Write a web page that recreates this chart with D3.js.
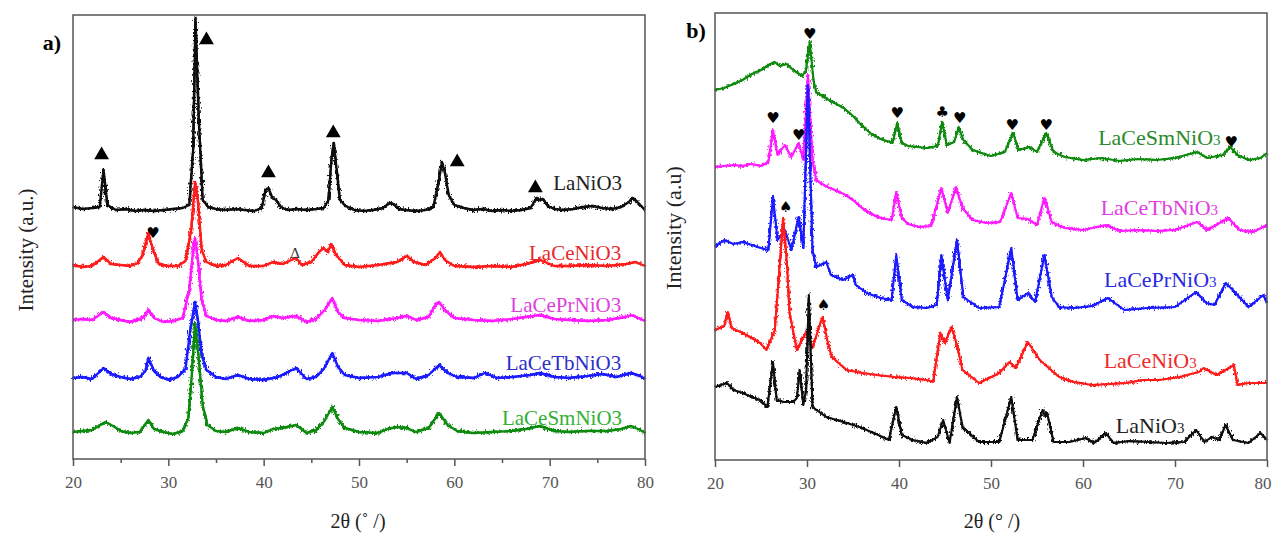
<!DOCTYPE html>
<html>
<head>
<meta charset="utf-8">
<script src="https://cdn.jsdelivr.net/npm/d3@7"></script>
<style>
  body { margin: 0; background: #fff; }
</style>
</head>
<body>
<svg id="fig" width="1272" height="533"></svg>
<script>
// x ticks (2-theta, degrees)
var majorTicks = [20, 30, 40, 50, 60, 70, 80];
var minorTicks = [25, 35, 45, 55, 65, 75];

// ---- panel a: [2theta, intensity a.u.] (curves already stacked) ----
var aLaNiO3 = [[20,252],[21,250],[22,251],[22.8,252],[23.2,289],[23.6,254],[24.5,249],[25.5,250],[26.5,248],[27.5,249],[28.5,248],[29.5,249],[30.5,250],[31.5,251],[32.2,254],[32.6,309],[32.85,441],[33.2,339],[33.6,259],[34.2,252],[35,250],[36,249],[37,250],[38,249],[39,248],[39.8,251],[40.2,269],[40.5,271],[40.9,261],[41.3,259],[41.8,252],[42.5,249],[43.5,250],[44.5,249],[45.5,250],[46.3,251],[46.8,259],[47.1,299],[47.35,316],[47.6,294],[48,259],[48.6,253],[49.5,249],[50.5,248],[51.5,249],[52.5,251],[53.2,256],[53.6,255],[54.2,250],[55,249],[56,248],[57,249],[57.8,252],[58.3,274],[58.7,297],[59,287],[59.4,264],[60,254],[61,251],[62,249],[63,250],[64,248],[65,249],[66,248],[67,249],[68,251],[68.6,261],[68.9,259],[69.3,260],[69.8,253],[70.5,250],[71.5,249],[72.5,250],[73.5,252],[74.5,253],[75.5,251],[76.5,250],[77.5,252],[78.3,257],[78.7,261],[79.2,257],[79.6,253],[80,249]];
var aLaCeNiO3 = [[20,194],[21,192],[22,193],[23.2,202],[24,195],[25,194],[26,193],[26.8,196],[27.3,204],[27.9,226],[28.4,209],[29,195],[30,193],[31,193],[31.8,198],[32.4,229],[32.8,277],[33.1,259],[33.5,209],[34,197],[35,193],[36,194],[37.3,201],[38.5,193],[40,193],[41,197],[42,195],[43.4,201],[44,194],[45,197],[45.8,207],[46.3,211],[46.7,207],[47.1,215],[47.6,204],[48.5,194],[50,192],[52,194],[54,197],[55,203],[55.8,197],[57,194],[58,201],[58.5,207],[59,199],[60,193],[62,192],[64,193],[66,192],[67.5,195],[69,199],[70.5,193],[72,193],[74,194],[76,193],[78,195],[79,197],[80,193]];
var aLaCePrNiO3 = [[20,139],[21,140],[22,139],[23.2,147],[24,141],[25,139],[26,137],[27.3,141],[27.9,149],[28.5,141],[29.5,137],[30.5,138],[31.5,141],[32.2,169],[32.6,209],[32.8,221],[33.1,199],[33.5,159],[34,143],[35,139],[36,138],[37.3,142],[38.5,138],[40,139],[41,143],[42,141],[43.4,143],[44.5,137],[45.5,140],[46.4,149],[47.2,161],[47.8,147],[48.5,141],[50,139],[52,138],[54,141],[55,143],[56,139],[57.3,142],[58,154],[58.4,157],[59,149],[60,141],[62,139],[64,138],[66,140],[67.5,142],[69,144],[70.5,140],[72,139],[74,138],[76,139],[78,142],[78.5,144],[79.3,141],[80,138]];
var aLaCeTbNiO3 = [[20,81],[21,82],[22,80],[23.2,91],[24,85],[25,82],[26,80],[27,82],[27.6,88],[27.9,101],[28.5,88],[29.2,82],[30,79],[31,82],[31.8,90],[32.3,129],[32.8,157],[33.1,139],[33.5,104],[34,89],[35,82],[36,80],[37.3,84],[38.5,80],[40,79],[41.5,82],[43.4,91],[44.5,80],[45.5,82],[46.3,90],[47.2,106],[47.8,92],[48.5,84],[50,81],[52,82],[53.5,86],[55,86],[56,80],[57.3,84],[58.4,94],[59.3,86],[60.3,82],[62,81],[63.2,86],[64.5,81],[66,82],[68,84],[69,86],[70.5,82],[72,81],[74,83],[75.6,85],[77,82],[78.5,86],[79.5,83],[80,80]];
var aLaCeSmNiO3 = [[20,27],[21,28],[22,29],[23.4,37],[24.2,33],[25,28],[26,26],[27,27],[27.9,39],[28.5,30],[29.5,27],[30.5,25],[31.5,28],[32.1,41],[32.5,89],[32.8,136],[33.2,99],[33.6,54],[34.1,34],[35,28],[36,27],[37.3,31],[38.5,27],[40,26],[41,30],[42,31],[43.4,34],[44.5,26],[45.5,29],[46.3,37],[47.2,52],[47.8,40],[48.5,31],[50,27],[52,26],[53,30],[54,32],[55,31],[56,27],[57.3,31],[58.4,46],[59.3,34],[60.3,28],[62,26],[64,27],[66,28],[67.5,30],[69,33],[70.5,28],[72,27],[74,28],[76,28],[77.5,30],[78.5,33],[79.5,29],[80,26]];

var aNames = ["LaNiO3", "LaCeNiO3", "LaCePrNiO3", "LaCeTbNiO3", "LaCeSmNiO3"];
var aSeries = [aLaNiO3, aLaCeNiO3, aLaCePrNiO3, aLaCeTbNiO3, aLaCeSmNiO3];
var aLabelAt = [[77.6, 269], [77.5, 199], [77.5, 147], [77.5, 89], [77.6, 34]];
var aTriangles = [[23.0, 304], [34.0, 419], [40.5, 286], [47.3, 326], [60.3, 297], [68.5, 271]];
var aHearts = [[28.4, 226]];
var aOpenTriangles = [[43.3, 206]];

// ---- panel b ----
var bLaCeSmNiO3 = [[20,370],[21,372],[22,376],[23,380],[24,386],[25,390],[26,396],[26.5,398],[27,394],[27.8,396],[28.5,390],[29.5,384],[29.9,390],[30.3,418],[30.7,380],[31,368],[32,362],[33,357],[34,352],[35,344],[36,334],[37,326],[38,321],[39.3,317],[39.8,337],[40.3,317],[41,314],[42,313],[43,312],[44.2,314],[44.7,338],[45.2,315],[46,318],[46.5,333],[47,320],[48,310],[49,307],[50,304],[51.5,308],[52.4,327],[53,310],[54.2,313],[55,308],[56,327],[56.8,308],[58,303],[60,300],[62,302],[64,299],[66,301],[68,300],[70,302],[72.4,308],[73.5,302],[75.2,305],[76,313],[76.8,305],[78,300],[79.3,302],[80,307]];
var bLaCeTbNiO3 = [[20,293],[21,294],[22,295],[23,294],[24,296],[25,294],[25.8,298],[26.3,330],[26.8,305],[27.6,315],[28.3,303],[29.1,317],[29.6,300],[30.1,385],[30.6,300],[31,280],[32,274],[33,270],[34,266],[35,260],[36,252],[37,246],[38,242],[39.2,240],[39.7,268],[40.3,242],[41,236],[42.2,233],[43.5,234],[44.6,272],[45.3,247],[46.2,273],[46.9,252],[48,240],[49.5,237],[51,238],[52.2,267],[52.9,242],[54,241],[55,235],[55.8,262],[56.6,238],[58,232],[60,230],[62.5,235],[64,229],[66,230],[68,229],[70,230],[72.4,238],[73.5,230],[75.8,242],[77,230],[78.5,228],[80,235]];
var bLaCePrNiO3 = [[20,213],[21,220],[22,216],[23,218],[24,215],[25,212],[25.8,210],[26.3,263],[26.8,220],[27.6,230],[28.3,210],[29.1,243],[29.6,212],[30.1,375],[30.6,210],[31,193],[32.1,198],[32.6,185],[33.9,180],[35,185],[35.3,175],[36.5,167],[38,162],[39.2,160],[39.7,205],[40.3,160],[41.5,153],[43,152],[44.1,155],[44.6,205],[45.3,160],[46.3,220],[47,163],[48.7,152],[50.9,153],[52.2,212],[52.9,160],[54,167],[54.8,158],[55.8,205],[56.6,163],[57.4,153],[59,152],[61,154],[62.7,162],[64.5,150],[67,152],[70,153],[72.3,168],[73.4,157],[74.3,155],[75.5,177],[76.6,167],[78,153],[79.6,165],[80,157]];
var bLaCeNiO3 = [[20,130],[21,134],[21.4,148],[21.8,132],[23,127],[24,122],[24.9,117],[25.6,110],[26.5,130],[27,190],[27.4,242],[27.8,200],[28.1,147],[28.9,110],[29.9,128],[30.6,112],[31.2,130],[31.7,143],[32.2,120],[32.7,103],[34.3,90],[36,87],[37.6,85],[39.5,83],[41.2,82],[43,80],[43.7,78],[44.5,127],[45,117],[45.7,133],[46.3,115],[46.9,90],[48.7,77],[50.9,87],[52,98],[52.7,92],[54,118],[55.3,100],[57.4,83],[59,78],[61,75],[63,76],[64.7,77],[66.5,80],[68.3,80],[70.5,83],[72.6,88],[73.1,92],[74.5,85],[75.5,90],[76.4,95],[76.8,75],[78,77],[80,77]];
var bLaNiO3 = [[20,73],[21.3,77],[22,70],[23,67],[24,63],[24.9,60],[25.7,53],[26.3,98],[26.7,60],[27.5,58],[28.5,58],[28.9,62],[29.2,90],[29.6,55],[29.9,70],[30.2,165],[30.6,53],[31.5,47],[32.1,43],[34,38],[35.7,33],[37.5,26],[38.9,20],[39.7,53],[40.3,25],[41.5,20],[43,17],[44.2,23],[44.8,40],[45.5,17],[46.3,63],[46.9,33],[48.7,18],[50.9,18],[52.2,63],[52.9,20],[54.5,20],[55.6,50],[55.9,44],[56.1,47],[56.8,18],[58.5,18],[60.3,22],[61.2,17],[62.5,27],[63.3,17],[65,19],[67,18],[69,17],[71,18],[72.3,30],[73.2,18],[74,23],[74.8,20],[75.5,35],[76.3,20],[78,17],[79.3,27],[80,20]];

var bNames = ["LaCeSmNiO", "LaCeTbNiO", "LaCePrNiO", "LaCeNiO", "LaNiO"];
var bSeries = [bLaCeSmNiO3, bLaCeTbNiO3, bLaCePrNiO3, bLaCeNiO3, bLaNiO3];
var bLabelAt = [[68.3, 315], [68.3, 245], [68.4, 173], [67.3, 92], [67.3, 27]];
var bHearts = [[30.3, 426], [26.3, 342], [29.1, 325], [39.8, 347], [46.6, 342], [52.3, 335], [56.0, 335], [76.1, 318]];
var bClubs = [[44.7, 348]];
var bSpades = [[27.7, 253], [31.8, 155]];

var aLine = ["#111111", "#ff1a1a", "#ff1aff", "#1a1aff", "#118a11"];
var aText = ["#222222", "#e8282b", "#dd3fdd", "#2e2ec8", "#33b033"];
var bLine = ["#118a11", "#ff1aff", "#1a1aff", "#ff1a1a", "#111111"];
var bText = ["#2a8a2a", "#e040e0", "#2a2ae0", "#ee2a2a", "#222222"];

var serif = "'Liberation Serif', 'Times New Roman', Times, serif";
var svg = d3.select("#fig");
var axisColor = "#555";

// rough texture so the traces look like noisy XRD scans
var fz = svg.append("defs").append("filter").attr("id", "fuzz")
  .attr("x", "-5%").attr("y", "-10%").attr("width", "110%").attr("height", "120%");
fz.append("feTurbulence").attr("type", "fractalNoise").attr("baseFrequency", "0.7 0.35")
  .attr("numOctaves", 2).attr("seed", 4).attr("result", "n");
fz.append("feDisplacementMap").attr("in", "SourceGraphic").attr("in2", "n")
  .attr("scale", 7).attr("xChannelSelector", "R").attr("yChannelSelector", "G");

function panel(box, series, lineColors, width) {
  var x = d3.scaleLinear().domain([20, 80]).range([box.left, box.right]);
  var y = d3.scaleLinear().domain([0, box.bottom - box.top]).range([box.bottom, box.top]);
  var g = svg.append("g");

  var line = d3.line().x(function(d) { return x(d[0]); }).y(function(d) { return y(d[1]); });
  series.forEach(function(s, i) {
    g.append("path").datum(s).attr("d", line)
      .attr("fill", "none").attr("stroke", lineColors[i])
      .attr("stroke-width", width).attr("stroke-linejoin", "round");
    g.append("path").datum(s).attr("d", line)
      .attr("fill", "none").attr("stroke", lineColors[i]).attr("filter", "url(#fuzz)")
      .attr("stroke-width", width).attr("stroke-linejoin", "round");
  });

  var ax = g.append("g").attr("transform", "translate(0," + box.bottom + ")")
    .call(d3.axisBottom(x).tickValues(majorTicks).tickSize(7).tickSizeOuter(0).tickPadding(10));
  ax.attr("font-family", serif);
  ax.select(".domain").remove();
  ax.selectAll("line").attr("stroke", axisColor).attr("stroke-width", 1.5);
  ax.selectAll("text").attr("fill", "#555").attr("font-size", 17).attr("font-family", serif);
  if (box.minor) {
    var mx = g.append("g").attr("transform", "translate(0," + box.bottom + ")")
      .call(d3.axisBottom(x).tickValues(minorTicks).tickSize(4).tickFormat(""));
    mx.select(".domain").remove();
    mx.selectAll("line").attr("stroke", axisColor).attr("stroke-width", 1.5);
  }

  g.append("rect").attr("x", box.left).attr("y", box.top)
    .attr("width", box.right - box.left).attr("height", box.bottom - box.top)
    .attr("fill", "none").attr("stroke", axisColor).attr("stroke-width", 1.5);

  return {g: g, x: x, y: y, ax: ax};
}

// ---------- panel a ----------
var pa = panel({left: 73, right: 645, top: 15, bottom: 459, minor: true}, aSeries, aLine, 2.4);

pa.g.selectAll(".lab").data(aNames).enter().append("text")
  .attr("x", function(d, i) { return pa.x(aLabelAt[i][0]); })
  .attr("y", function(d, i) { return pa.y(aLabelAt[i][1]); })
  .attr("text-anchor", "end").attr("fill", function(d, i) { return aText[i]; })
  .attr("font-family", serif).attr("font-size", 21).text(function(d) { return d; });

var tri = d3.symbol().type(d3.symbolTriangle).size(95);
pa.g.selectAll(".tri").data(aTriangles).enter().append("path")
  .attr("d", tri).attr("fill", "#000")
  .attr("transform", function(d) { return "translate(" + pa.x(d[0]) + "," + pa.y(d[1]) + ")"; });
pa.g.selectAll(".heart").data(aHearts).enter().append("text")
  .attr("x", function(d) { return pa.x(d[0]); }).attr("y", function(d) { return pa.y(d[1]); })
  .attr("text-anchor", "middle").attr("dy", "0.35em")
  .attr("font-family", "'DejaVu Sans', sans-serif").attr("font-size", 15).text("\u2665");
pa.g.selectAll(".otri").data(aOpenTriangles).enter().append("text")
  .attr("x", function(d) { return pa.x(d[0]); }).attr("y", function(d) { return pa.y(d[1]); })
  .attr("text-anchor", "middle").attr("dy", "0.35em").attr("fill", "#333")
  .attr("font-family", serif).attr("font-size", 15).text("\u0394");

svg.append("text").attr("x", 52).attr("y", 50).attr("text-anchor", "middle")
  .attr("font-family", serif).attr("font-size", 22).attr("font-weight", "bold").text("a)");
svg.append("text").attr("transform", "translate(33,250) rotate(-90)")
  .attr("text-anchor", "middle").attr("fill", "#222").attr("font-family", serif)
  .attr("font-size", 21).text("Intensity (a.u.)");
svg.append("text").attr("x", 358).attr("y", 528).attr("text-anchor", "middle")
  .attr("fill", "#222").attr("font-family", serif).attr("font-size", 20).text("2\u03b8 (\u02da /)");

// ---------- panel b ----------
var pb = panel({left: 715, right: 1267, top: 13, bottom: 460, minor: false}, bSeries, bLine, 2.1);
// last tick label sits on the page edge in the original; keep it inside
pb.ax.selectAll(".tick text").filter(function(d) { return d === 80; }).attr("text-anchor", "end").attr("dx", 4);

var bl = pb.g.selectAll(".lab").data(bNames).enter().append("text")
  .attr("x", function(d, i) { return pb.x(bLabelAt[i][0]); })
  .attr("y", function(d, i) { return pb.y(bLabelAt[i][1]); })
  .attr("text-anchor", "middle").attr("fill", function(d, i) { return bText[i]; })
  .attr("font-family", serif).attr("font-size", 22);
bl.append("tspan").text(function(d) { return d; });
bl.append("tspan").attr("font-size", 15).text("3");

function marks(pts, glyph) {
  pb.g.selectAll(null).data(pts).enter().append("text")
    .attr("x", function(d) { return pb.x(d[0]); }).attr("y", function(d) { return pb.y(d[1]); })
    .attr("text-anchor", "middle").attr("dy", "0.35em")
    .attr("font-family", "'DejaVu Sans', sans-serif").attr("font-size", 15).text(glyph);
}
marks(bHearts, "\u2665");
marks(bClubs, "\u2663");
marks(bSpades, "\u2660");

svg.append("text").attr("x", 696).attr("y", 38).attr("text-anchor", "middle")
  .attr("font-family", serif).attr("font-size", 22).attr("font-weight", "bold").text("b)");
svg.append("text").attr("transform", "translate(681,228) rotate(-90)")
  .attr("text-anchor", "middle").attr("fill", "#222").attr("font-family", serif)
  .attr("font-size", 22).text("Intensity (a.u)");
svg.append("text").attr("x", 992).attr("y", 528).attr("text-anchor", "middle")
  .attr("fill", "#222").attr("font-family", serif).attr("font-size", 20).text("2\u03b8 (\u00b0 /)");
</script>
</body>
</html>
